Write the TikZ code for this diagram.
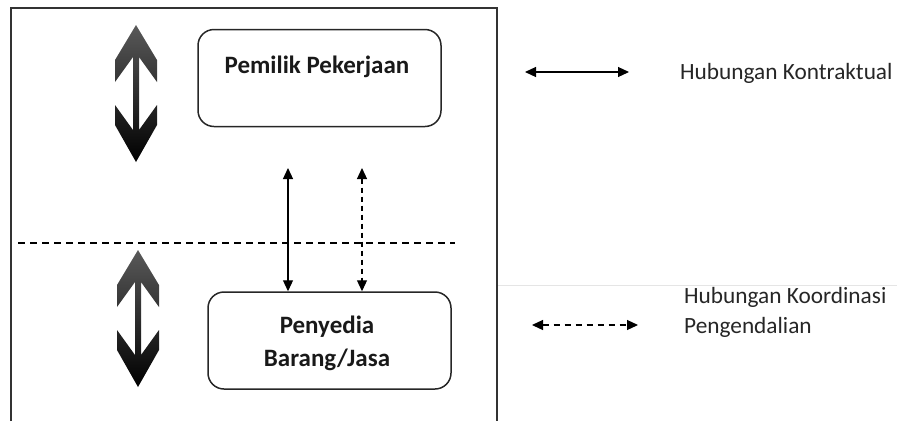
\documentclass[tikz,border=0pt]{standalone}
\usepackage{fontspec}
\setmainfont{Carlito}
\usetikzlibrary{arrows.meta}
\begin{document}
\begin{tikzpicture}[x=1pt,y=-1pt,
  box/.style={draw=black!85, line width=1.5pt, rounded corners=16pt, minimum width=243pt, minimum height=97pt, inner sep=0pt},
  lbl/.style={font=\fontsize{25}{33}\selectfont\bfseries, text=black!90, align=center},
  leg/.style={font=\fontsize{23.3}{30}\selectfont, text=black!85, anchor=west, inner sep=0pt},
  rel/.style={{Triangle[length=11pt,width=10pt]}-{Triangle[length=11pt,width=10pt]}, line width=1.2pt},
  reldash/.style={rel, dash pattern=on 5pt off 4pt},
  bigarrow/.pic={\shade[top color=black!65, middle color=black!95, bottom color=black]
    (0,0) -- (21,35) -- (21,57) -- (3,32) -- (3,105) -- (21,80) -- (21,100) -- (0,137)
    -- (-21,100) -- (-21,80) -- (-3,105) -- (-3,32) -- (-21,57) -- (-21,35) -- cycle;}
]
\useasboundingbox (0,0) rectangle (897,421);
% outer frame and page line
\draw[line width=2pt, black!80] (11,421) -- (11,8) -- (497,8) -- (497,421);
\draw[line width=1pt, black!10] (498,285) -- (897,285);
% dashed separator
\draw[dash pattern=on 7pt off 5pt, line width=1.3pt] (18,243) -- (455,243);
% big arrows
\pic at (136,25) {bigarrow};
\pic at (138,250) {bigarrow};
% boxes
\node[box] (pemilik) at (319.5,78) {};
\node[lbl] (pemiliktext) at (317,67) {Pemilik Pekerjaan};
\node[box] (penyedia) at (329.5,340.5) {};
\node[lbl] (penyediatext) at (327,343) {Penyedia\\Barang/Jasa};
% relations
\coordinate (s1) at (288,168);
\coordinate (s2) at (362,168);
\draw[rel] (s1) -- (s1 |- penyedia.north);
\draw[reldash] (s2) -- (s2 |- penyedia.north);
% legend
\coordinate (l1a) at (525,72);
\coordinate (l1b) at (629,72);
\draw[rel] (l1a) -- (l1b);
\node[leg] (t1) at (680,73) {Hubungan Kontraktual};
\coordinate (l2a) at (532,325);
\coordinate (l2b) at (638,325);
\draw[reldash, dash pattern=on 6pt off 5pt] (l2a) -- (l2b);
\node[leg] (t2) at (684,297) {Hubungan Koordinasi};
\node[leg] (t3) at (684,327) {Pengendalian};
\end{tikzpicture}
\end{document}
